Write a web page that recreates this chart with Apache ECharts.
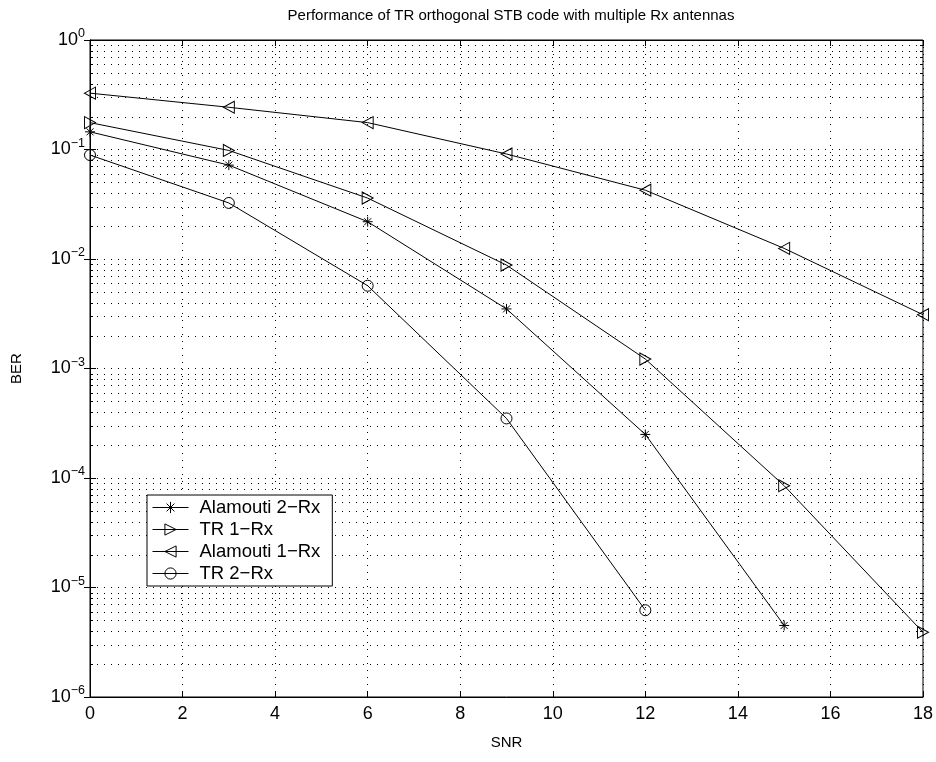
<!DOCTYPE html>
<html>
<head>
<meta charset="utf-8">
<script src="https://cdn.jsdelivr.net/npm/echarts@6/dist/echarts.min.js"></script>
<style>
html,body{margin:0;padding:0;background:#fff;}
#chart{width:936px;height:762px;}
</style>
</head>
<body>
<div id="chart"></div>
<script>
// ---- data ----
const snr = [0, 3, 6, 9, 12, 15, 18];
const alamouti2Rx = [0.145, 0.072, 0.0219, 0.0035, 0.00025, 0.0000045];
const tr1Rx = [0.176, 0.098, 0.036, 0.0088, 0.00122, 0.000085, 0.0000039];
const alamouti1Rx = [0.327, 0.243, 0.176, 0.091, 0.0425, 0.0125, 0.0031];
const tr2Rx = [0.089, 0.0325, 0.0057, 0.00035, 0.0000062];
const seriesNames = ['Alamouti 2\u2212Rx', 'TR 1\u2212Rx', 'Alamouti 1\u2212Rx', 'TR 2\u2212Rx'];
const xTicks = [0, 2, 4, 6, 8, 10, 12, 14, 16, 18];
const yDecades = [-6, -5, -4, -3, -2, -1, 0];

const FONT = '"Liberation Sans", Arial, Helvetica, sans-serif';
const X_MIN = xTicks[0], X_MAX = xTicks[xTicks.length - 1];
const Y_MIN = Math.pow(10, yDecades[0]), Y_MAX = Math.pow(10, yDecades[yDecades.length - 1]);
const minorVals = [];
for (let d = yDecades[0]; d < yDecades[yDecades.length - 1]; d++)
  for (let k = 2; k <= 9; k++) minorVals.push(k * Math.pow(10, d));
const DASH = [1, 6];
const dotted = {color: '#000', width: 1, type: DASH};

function pairs(ys) { return ys.map((v, i) => [snr[i], v]); }

const symAst = 'path://M5,0L5,10M0,5L10,5M1.5,1.5L8.5,8.5M1.5,8.5L8.5,1.5';
const symRight = 'path://M0,0L10,6L0,12Z';
const symLeft = 'path://M10,0L0,6L10,12Z';

function mk(name, ys, symbol, size) {
  return {
    name: name, type: 'line', data: pairs(ys), symbol: symbol, symbolSize: size,
    showAllSymbol: true, clip: false, z: 5,
    lineStyle: {color: '#000', width: 1},
    itemStyle: {color: 'rgba(0,0,0,0)', borderColor: '#000', borderWidth: 1},
    emphasis: {disabled: true}, animation: false
  };
}

const yLog = {type: 'log', logBase: 10, min: Y_MIN, max: Y_MAX, splitNumber: 6};

const chart = echarts.init(document.getElementById('chart'), null, {renderer: 'canvas'});
chart.setOption({
  backgroundColor: '#fff',
  animation: false,
  title: {
    text: 'Performance of TR orthogonal STB code with multiple Rx antennas',
    left: 506, top: 3, textAlign: 'center',
    textStyle: {fontFamily: FONT, fontSize: 15, fontWeight: 'normal', color: '#000'}
  },
  grid: {left: 90, right: 13, top: 40, bottom: 65, show: true, borderColor: '#000', borderWidth: 1, backgroundColor: 'transparent'},
  legend: {
    orient: 'vertical', left: 147, top: 495,
    data: seriesNames,
    itemWidth: 36, itemHeight: 14, itemGap: 3,
    padding: [3, 12, 3, 5],
    borderColor: '#000', borderWidth: 1, backgroundColor: '#fff',
    lineStyle: {width: 1, color: '#000'},
    itemStyle: {borderWidth: 1, borderColor: '#000', color: 'rgba(0,0,0,0)'},
    textStyle: {fontFamily: FONT, fontSize: 18.5, color: '#000', lineHeight: 18, padding: [0, 0, 0, 6]},
    selectedMode: false
  },
  xAxis: [
    {type: 'value', min: X_MIN, max: X_MAX, interval: 2, position: 'bottom',
     name: 'SNR', nameLocation: 'middle', nameGap: 38,
     nameTextStyle: {fontFamily: FONT, fontSize: 15, color: '#000'},
     axisLine: {show: true, lineStyle: {color: '#000', width: 1}},
     axisTick: {show: true, inside: true, length: 6, lineStyle: {color: '#000'}},
     axisLabel: {fontFamily: FONT, fontSize: 18, color: '#000', margin: 8},
     splitLine: {show: true, lineStyle: dotted}},
    {type: 'value', min: X_MIN, max: X_MAX, interval: 2, position: 'top',
     axisLine: {show: true, lineStyle: {color: '#000', width: 1}},
     axisTick: {show: true, inside: true, length: 6, lineStyle: {color: '#000'}},
     axisLabel: {show: false}, splitLine: {show: false}}
  ],
  yAxis: [
    Object.assign({}, yLog, {
      position: 'left', name: 'BER', nameLocation: 'middle', nameGap: 66, nameRotate: 90,
      nameTextStyle: {fontFamily: FONT, fontSize: 15, color: '#000'},
      axisLine: {show: true, lineStyle: {color: '#000', width: 1}},
      axisTick: {show: true, inside: true, length: 6, lineStyle: {color: '#000'}},
      axisLabel: {
        margin: 5, color: '#000',
        formatter: function (v) {
          const e = Math.round(Math.log10(v));
          return '{b|10}{s|' + (e < 0 ? '\u2212' + (-e) : e) + '}';
        },
        rich: {
          b: {fontFamily: FONT, fontSize: 18, color: '#000'},
          s: {fontFamily: FONT, fontSize: 12.5, color: '#000', padding: [0, 0, 12, 0]}
        }
      },
      splitLine: {show: true, lineStyle: dotted}
    }),
    Object.assign({}, yLog, {
      position: 'right',
      axisLine: {show: true, lineStyle: {color: '#000', width: 1}},
      axisTick: {show: true, inside: true, length: 6, lineStyle: {color: '#000'}},
      axisLabel: {show: false}, splitLine: {show: false}
    })
  ],
  series: [
    mk(seriesNames[0], alamouti2Rx, symAst, 10),
    mk(seriesNames[1], tr1Rx, symRight, [11, 12]),
    mk(seriesNames[2], alamouti1Rx, symLeft, [11, 12]),
    mk(seriesNames[3], tr2Rx, 'circle', 11),
    {
      // minor grid lines + minor ticks at 2..9 x 10^n, placed through the log axis scale
      type: 'custom', silent: true, z: 1, clip: false,
      data: minorVals.map(v => [X_MIN, v]),
      renderItem: function (params, api) {
        const v = api.value(1);
        const a = api.coord([X_MIN, v]);
        const b = api.coord([X_MAX, v]);
        const y = Math.round(a[1]) + 0.5;
        return {
          type: 'group',
          children: [
            {type: 'line', shape: {x1: a[0], y1: y, x2: b[0], y2: y}, style: {stroke: '#000', lineWidth: 1, lineDash: DASH}},
            {type: 'line', shape: {x1: a[0], y1: y, x2: a[0] + 3, y2: y}, style: {stroke: '#000', lineWidth: 1}},
            {type: 'line', shape: {x1: b[0] - 3, y1: y, x2: b[0], y2: y}, style: {stroke: '#000', lineWidth: 1}}
          ]
        };
      }
    }
  ]
});
</script>
</body>
</html>
